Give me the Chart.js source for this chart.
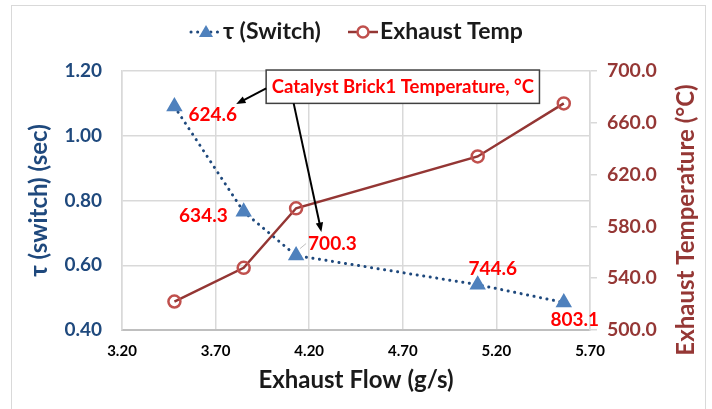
<!DOCTYPE html>
<html lang="en">

<head>
    <meta charset="UTF-8">
    <meta name="viewport" content="width=device-width, initial-scale=1.0">
    <title>Exhaust Flow vs τ (switch)</title>
    <style>
        html, body { margin: 0; padding: 0; background: #fff; }
        #wrap { width: 712px; height: 409px; }
    </style>
</head>

<body>
    <div id="wrap"><canvas id="myChart" width="712" height="409"></canvas></div>

    <script src="https://cdn.jsdelivr.net/npm/chart.js"></script>

    <script>
        // datos
        const flow = [3.48, 3.85, 4.13, 5.10, 5.56]
        const tauSwitch = [1.09, 0.765, 0.63, 0.54, 0.485]
        const exhaustTemp = [522, 548, 594, 634, 675]
        const brickTemp = ['624.6', '634.3', '700.3', '744.6', '803.1']
        const flowTicks = [3.20, 3.70, 4.20, 4.70, 5.20, 5.70]
        const tauTicks = [0.40, 0.60, 0.80, 1.00, 1.20]
        const tempTicks = [500, 540, 580, 620, 660, 700]

        const FONT = 'Lato'
        const BLUE = '#1F497D'
        const RED = '#953735'
        Chart.defaults.font.family = FONT

        // offsets de las etiquetas de temperatura respecto a cada punto
        const labelPos = [
            { dx: 14, dy: 8, align: 'left' },
            { dx: -16, dy: 4, align: 'right' },
            { dx: 12, dy: -12, align: 'left', leader: true },
            { dx: 15, dy: -16, align: 'center' },
            { dx: 11, dy: 17, align: 'center' }
        ]

        function arrow(c, x1, y1, x2, y2) {
            const a = Math.atan2(y2 - y1, x2 - x1)
            const head = 10
            c.beginPath()
            c.moveTo(x1, y1)
            c.lineTo(x2 - Math.cos(a) * head * 0.8, y2 - Math.sin(a) * head * 0.8)
            c.stroke()
            c.beginPath()
            c.moveTo(x2, y2)
            c.lineTo(x2 - head * Math.cos(a - 0.38), y2 - head * Math.sin(a - 0.38))
            c.lineTo(x2 - head * Math.cos(a + 0.38), y2 - head * Math.sin(a + 0.38))
            c.closePath()
            c.fill()
        }

        const extras = {
            id: 'extras',
            beforeDraw(chart) {
                const c = chart.ctx
                c.save()
                c.strokeStyle = '#d9d9d9'
                c.lineWidth = 1
                c.strokeRect(11.5, 5.5, 694, 430)
                c.restore()
            },
            afterDraw(chart) {
                const c = chart.ctx
                const sx = chart.scales.x
                const sy = chart.scales.y
                const meta = chart.getDatasetMeta(0)
                c.save()

                // etiquetas de la temperatura del catalizador
                c.font = 'bold 19px ' + FONT
                c.fillStyle = '#FF0000'
                c.textBaseline = 'middle'
                meta.data.forEach((p, i) => {
                    const o = labelPos[i]
                    if (o.leader) {
                        c.strokeStyle = '#bfbfbf'
                        c.lineWidth = 1
                        c.beginPath()
                        c.moveTo(p.x + 4, p.y - 7)
                        c.lineTo(p.x + 10, p.y - 12)
                        c.stroke()
                    }
                    c.textAlign = o.align
                    c.fillText(brickTemp[i], p.x + o.dx, p.y + o.dy)
                })

                // caja de anotacion
                const bx1 = sx.getPixelForValue(3.97), bx2 = sx.getPixelForValue(5.43)
                const by1 = sy.getPixelForValue(1.203), by2 = sy.getPixelForValue(1.10)
                c.fillStyle = '#fff'
                c.fillRect(bx1, by1, bx2 - bx1, by2 - by1)
                c.strokeStyle = '#404040'
                c.lineWidth = 1.5
                c.strokeRect(bx1, by1, bx2 - bx1, by2 - by1)
                c.fillStyle = '#FF0000'
                c.font = 'bold 18.5px ' + FONT
                c.textAlign = 'center'
                c.fillText('Catalyst Brick1 Temperature, °C', (bx1 + bx2) / 2, (by1 + by2) / 2)

                // flechas
                c.strokeStyle = '#000'
                c.fillStyle = '#000'
                c.lineWidth = 2
                arrow(c, bx1, sy.getPixelForValue(1.146), sx.getPixelForValue(3.81), sy.getPixelForValue(1.098))
                arrow(c, sx.getPixelForValue(4.117), by2, sx.getPixelForValue(4.265), sy.getPixelForValue(0.703))

                // leyenda
                const ly = 32
                c.font = 'bold 23px ' + FONT
                c.textAlign = 'left'
                c.strokeStyle = BLUE
                c.lineWidth = 3
                c.lineCap = 'round'
                c.setLineDash([0.1, 6.5])
                c.beginPath(); c.moveTo(191, ly); c.lineTo(221, ly); c.stroke()
                c.setLineDash([])
                c.fillStyle = '#4F81BD'
                c.beginPath(); c.moveTo(206, ly - 7); c.lineTo(213, ly + 5); c.lineTo(199, ly + 5); c.closePath(); c.fill()
                c.fillStyle = '#1a1a1a'
                c.fillText('τ (Switch)', 223, ly)
                c.strokeStyle = '#943634'
                c.lineWidth = 2.5
                c.lineCap = 'butt'
                c.beginPath(); c.moveTo(348, ly); c.lineTo(378, ly); c.stroke()
                c.strokeStyle = '#C0504D'
                c.fillStyle = '#fff'
                c.beginPath(); c.arc(363, ly, 5.5, 0, Math.PI * 2); c.fill(); c.stroke()
                c.fillStyle = '#1a1a1a'
                c.fillText('Exhaust Temp', 380, ly)

                // titulo del eje derecho (se lee de abajo hacia arriba)
                c.translate(686, 220)
                c.rotate(-Math.PI / 2)
                c.textAlign = 'center'
                c.fillStyle = RED
                c.font = 'bold 24px ' + FONT
                c.fillText('Exhaust Temperature (°C)', 0, 0)
                c.restore()
            }
        }

        const ctx = document.getElementById('myChart')
        const chart = new Chart(ctx, {
            type: 'scatter',
            data: {
                datasets: [{
                    label: 'τ (Switch)',
                    data: flow.map((x, i) => ({ x: x, y: tauSwitch[i] })),
                    yAxisID: 'y',
                    showLine: true,
                    borderColor: BLUE,
                    borderWidth: 3,
                    borderDash: [0.1, 6.5],
                    borderCapStyle: 'round',
                    pointStyle: 'triangle',
                    pointRadius: 6.5,
                    pointBackgroundColor: '#4F81BD',
                    pointBorderColor: '#4F81BD',
                    order: 1
                }, {
                    label: 'Exhaust Temp',
                    data: flow.map((x, i) => ({ x: x, y: exhaustTemp[i] })),
                    yAxisID: 'y1',
                    showLine: true,
                    borderColor: '#943634',
                    borderWidth: 2.5,
                    pointStyle: 'circle',
                    pointRadius: 6,
                    pointBackgroundColor: 'rgba(255,255,255,0)',
                    pointBorderColor: '#C0504D',
                    pointBorderWidth: 2.5,
                    order: 0
                }]
            },
            options: {
                responsive: false,
                animation: false,
                devicePixelRatio: 1,
                layout: { padding: { left: 12, right: 8, top: 71, bottom: 0 } },
                plugins: { legend: { display: false }, tooltip: { enabled: false } },
                scales: {
                    x: {
                        type: 'linear',
                        min: 3.2,
                        max: 5.7,
                        afterBuildTicks: s => { s.ticks = flowTicks.map(v => ({ value: v })) },
                        afterFit: s => { s.height = 79 },
                        ticks: {
                            callback: v => v.toFixed(2),
                            font: { size: 15, weight: 'bold' },
                            color: '#000',
                            padding: 12,
                            maxRotation: 0
                        },
                        grid: { color: '#d9d9d9', lineWidth: 1.5, drawTicks: false },
                        border: { color: '#bfbfbf', width: 2 },
                        title: {
                            display: true,
                            text: 'Exhaust Flow (g/s)',
                            font: { size: 24, weight: 'bold' },
                            color: '#1a1a1a',
                            padding: { top: 0, bottom: 14 }
                        }
                    },
                    y: {
                        position: 'left',
                        min: 0.4,
                        max: 1.2,
                        afterBuildTicks: s => { s.ticks = tauTicks.map(v => ({ value: v })) },
                        afterFit: s => { s.width = 110 },
                        ticks: {
                            callback: v => v.toFixed(2),
                            font: { size: 19, weight: 'bold' },
                            color: BLUE,
                            padding: 20
                        },
                        grid: { color: '#d9d9d9', lineWidth: 1.5, drawTicks: false },
                        border: { color: '#d9d9d9', width: 1.5 },
                        title: {
                            display: true,
                            text: 'τ (switch) (sec)',
                            font: { size: 24, weight: 'bold' },
                            color: BLUE,
                            padding: { top: 13, bottom: 0 }
                        }
                    },
                    y1: {
                        position: 'right',
                        min: 500,
                        max: 700,
                        afterBuildTicks: s => { s.ticks = tempTicks.map(v => ({ value: v })) },
                        afterFit: s => { s.width = 114 },
                        ticks: {
                            callback: v => v.toFixed(1),
                            font: { size: 19.5, weight: 'bold' },
                            color: RED,
                            padding: 10
                        },
                        grid: { drawOnChartArea: false, color: '#d9d9d9', lineWidth: 1.5, tickLength: 7 },
                        border: { color: '#d9d9d9', width: 1.5 }
                    }
                }
            },
            plugins: [extras]
        })
    </script>

</body>

</html>
